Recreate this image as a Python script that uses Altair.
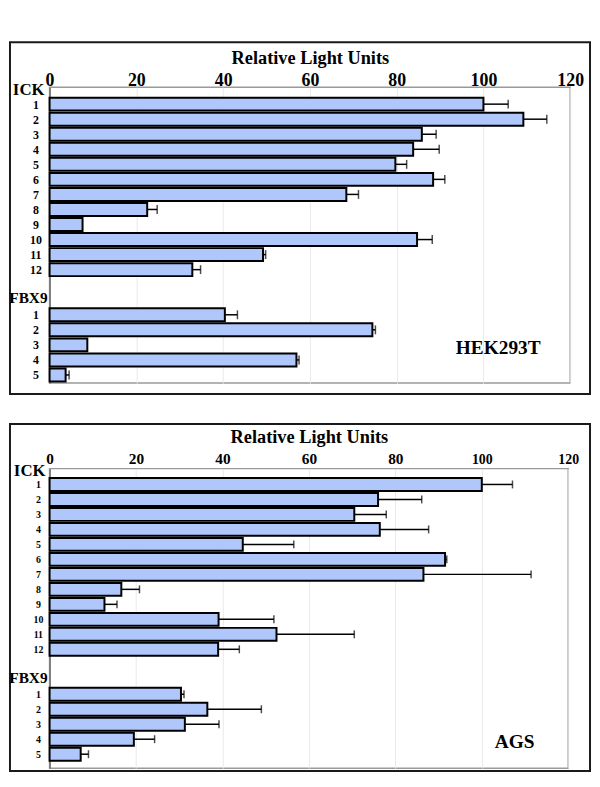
import altair as alt
import pandas as pd

# ---------------- data ----------------
x_ticks = [0, 20, 40, 60, 80, 100, 120]
ick_rows = list(range(1, 13))
fbx_rows = [1, 2, 3, 4, 5]

hek_ick_values = [100.0, 109.2, 85.8, 83.8, 79.7, 88.4, 68.4, 22.5, 7.6, 84.7, 49.2, 32.9]
hek_ick_errors = [5.7, 5.4, 3.3, 6.0, 2.6, 2.7, 2.8, 2.3, 0.0, 3.5, 0.6, 1.9]
hek_fbx_values = [40.4, 74.4, 8.7, 56.9, 3.7]
hek_fbx_errors = [2.9, 0.7, 0.0, 0.6, 0.8]

ags_ick_values = [100.0, 76.0, 70.5, 76.4, 44.7, 91.5, 86.5, 16.6, 12.7, 39.1, 52.5, 39.0]
ags_ick_errors = [7.1, 10.1, 7.4, 11.3, 11.8, 0.4, 24.9, 4.2, 2.9, 12.8, 18.0, 4.9]
ags_fbx_values = [30.4, 36.5, 31.3, 19.5, 7.2]
ags_fbx_errors = [0.7, 12.5, 7.9, 4.8, 1.8]

group_labels = ["ICK", "FBX9"]
panel_names = ["HEK293T", "AGS"]
axis_title = "Relative Light Units"

FONT = "Liberation Serif"
BAR_FILL = "#AFC7FB"


def make_df(ick_v, ick_e, fbx_v, fbx_e):
    pos = ick_rows + [r + 14 for r in fbx_rows]
    return pd.DataFrame({"pos": pos, "value": ick_v + fbx_v, "err": ick_e + fbx_e})


def panel(df, name, W, H, ydom, tick_fs, num_fs, num_pad, lab_pad, title_pad,
          ick_y, ick_dx, fbx_y, name_x, name_y, box, cap):
    x_scale = alt.Scale(domain=[0, 120], nice=False, zero=False)
    y_scale = alt.Scale(domain=ydom, reverse=True, nice=False, zero=False)
    x_axis = alt.Axis(
        orient="top", values=x_ticks, title=axis_title, titleFont=FONT,
        titleFontSize=18.5, titleFontWeight="bold", titleColor="black",
        titlePadding=title_pad, labelFont=FONT, labelFontSize=tick_fs,
        labelFontWeight="bold", labelColor="black", labelBaseline="alphabetic",
        labelPadding=lab_pad, labelFlush=False, labelOverlap=False,
        ticks=False, tickSize=0, domain=False, grid=True,
        gridColor="#e9e9e9", gridWidth=1,
    )
    y_axis = alt.Axis(
        values=ick_rows + [r + 14 for r in fbx_rows],
        labelExpr="'' + (datum.value > 13 ? datum.value - 14 : datum.value)",
        title=None, ticks=False, tickSize=0, domain=True, domainColor="#333333",
        domainWidth=1, grid=False, labelFont=FONT, labelFontSize=num_fs,
        labelFontWeight="bold", labelColor="black", labelAlign="center",
        labelBaseline="middle", labelPadding=num_pad,
    )
    X = lambda f: alt.X(f, type="quantitative", scale=x_scale, axis=x_axis)
    Y = lambda f: alt.Y(f, type="quantitative", scale=y_scale, axis=y_axis)

    base = alt.Chart(df).transform_calculate(
        y0="datum.pos - 0.43", y1="datum.pos + 0.43", zero="0",
        hi="datum.value + datum.err",
    )
    bars = base.mark_rect(fill=BAR_FILL, stroke="black", strokeWidth=2).encode(
        x=X("value"), x2=alt.X2("zero:Q"), y=Y("y0"), y2=alt.Y2("y1:Q")
    )
    err = base.transform_filter("datum.err > 0")
    rules = err.mark_rule(color="black", strokeWidth=1.5).encode(
        x=X("value"), x2=alt.X2("hi:Q"), y=Y("pos")
    )
    caps = err.mark_tick(orient="vertical", color="black", size=cap, thickness=1.5).encode(
        x=X("hi"), y=Y("pos")
    )

    one = pd.DataFrame({"k": [0]})
    frame = alt.Chart(one).mark_rect(
        fill="white", fillOpacity=0, stroke="#1a1a1a", strokeWidth=2
    ).encode(
        x=alt.value(box[0]), x2=alt.value(W + box[1]),
        y=alt.value(box[2]), y2=alt.value(H + box[3]),
    )

    def label(text, yv, fs, dx):
        d = pd.DataFrame({"t": [text], "x": [0], "y": [yv]})
        return alt.Chart(d).mark_text(
            align="right", baseline="alphabetic", dx=dx, font=FONT,
            fontSize=fs, fontWeight="bold", color="black",
        ).encode(x=X("x"), y=Y("y"), text="t:N")

    nd = pd.DataFrame({"t": [name], "x": [name_x], "y": [name_y]})
    name_txt = alt.Chart(nd).mark_text(
        align="center", baseline="alphabetic", font=FONT, fontSize=19.5,
        fontWeight="bold", color="black",
    ).encode(x=X("x"), y=Y("y"), text="t:N")

    return alt.layer(
        frame, bars, rules, caps,
        label(group_labels[0], ick_y, 17, ick_dx),
        label(group_labels[1], fbx_y, 15.5, -2),
        name_txt,
    ).properties(width=W, height=H)


top = panel(
    make_df(hek_ick_values, hek_ick_errors, hek_fbx_values, hek_fbx_errors),
    panel_names[0], 526, 299, [-0.13, 19.54], 18, 12, 14.3, 1.6, 4.6,
    0.40, -5, 14.22, 103.4, 17.63, (-40, 20, -45.3, 11), 9,
)
bottom = panel(
    make_df(ags_ick_values, ags_ick_errors, ags_fbx_values, ags_fbx_errors),
    panel_names[1], 524, 302.6, [-0.057, 19.93],
    {"condition": {"test": "datum.value >= 100", "value": 14}, "value": 15.5},
    10, 11.8, 5.5, 4.4,
    0.46, -4, 14.28, 107.6, 18.6, (-40, 22, -45.1, 3), 8,
)

chart = alt.vconcat(top, bottom, spacing=26.4).configure_view(
    stroke="#9a9a9a", strokeWidth=1.5
).properties(padding={"top": 28, "left": 0, "right": 0, "bottom": 0})

chart.save("out.html", embed_options={"renderer": "svg", "actions": False})
